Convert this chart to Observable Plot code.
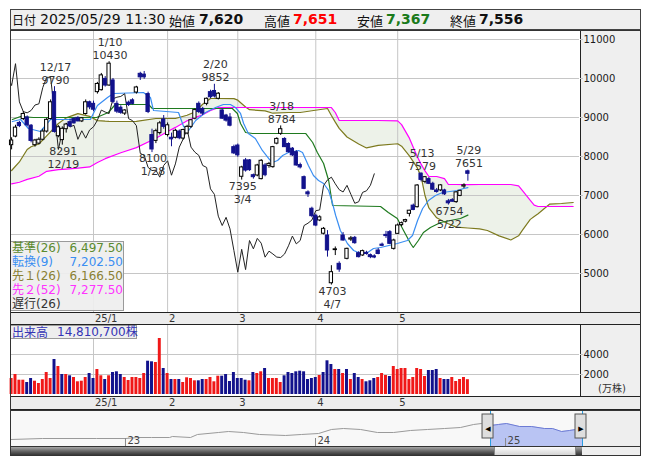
<!DOCTYPE html>
<html><head><meta charset="utf-8">
<script src="https://cdn.jsdelivr.net/npm/d3@7"></script>
<script src="https://cdn.jsdelivr.net/npm/@observablehq/plot@0.6"></script>
<style>
html,body{margin:0;padding:0;background:#fff;}
#root{position:relative;width:653px;height:470px;overflow:hidden;font-family:"DejaVu Sans","Noto Sans CJK JP",sans-serif;color:#111;}
</style></head><body><div id="root"></div>
<script>
// ---------------- DATA ----------------
// daily candles 2024/12/02 .. 2025/05/29 (index 0..117)
const open = [
8290,8510,8860,8960,9000,8790,8290,8330,8430,8640,
8960,9650,8520,8420,8700,8880,8960,8990,8900,9090,
9390,9350,9650,9700,9990,9820,9950,9350,9250,9100,
9380,9440,9640,10120,10100,9600,8550,8400,8600,8950,
8550,8480,8480,8640,8460,8590,8760,8970,9350,9220,
9350,9650,9680,9480,9180,9050,9000,8240,8280,7480,
7900,7900,7520,7513,7420,7770,7760,7727,8330,8580,
8450,8320,8200,8110,7780,7470,7080,6660,6480,6360,
6020,5974,4750,5600,5248,5974,5376,5870,5914,5521,
5462,5530,5470,5440,5590,5740,5990,6060,5632,6017,
6240,6330,6530,6740,6700,7560,7350,7420,7300,7130,
7130,7130,6850,6880,6830,6990,7230,7620];
const high = [
8480,8800,8900,9150,9040,8820,8440,8480,8700,8980,
9450,9790,8790,8760,8850,8960,9000,9020,9000,9450,
9420,9420,9900,10130,10050,10430,10000,9420,9300,9200,
9420,9480,9800,10160,10180,9650,8700,8700,8900,9050,
8860,8600,8700,8680,8700,8800,8950,9220,9400,9260,
9500,9700,9852,9640,9220,9080,9100,8290,8320,7750,
7950,7920,7550,7800,7920,7820,7850,8260,8480,8784,
8480,8350,8230,8150,7830,7500,7120,6700,6520,6480,
6180,6100,5200,5680,5300,6050,5650,5950,5950,5560,
5600,5570,5500,5480,5640,5780,6080,6100,5880,6270,
6320,6390,6620,6780,7280,7579,7480,7460,7340,7180,
7280,7160,6900,6920,7100,7130,7300,7651];
const low = [
8170,8480,8740,8920,8760,8350,8240,8300,8400,8600,
8940,8600,8480,8291,8600,8740,8830,8890,8870,9060,
9200,9150,9600,9680,9780,9800,9350,9100,9080,9050,
9280,9320,9600,9950,9980,9100,8100,8330,8550,8700,
8500,8250,8450,8430,8420,8560,8720,8940,9100,9050,
9300,9480,9500,9450,8950,8880,8760,8050,7980,7395,
7600,7620,7420,7480,7400,7480,7700,7700,8300,8540,
8230,8090,8000,7750,7680,7150,6950,6430,6200,6330,
5990,5420,4703,5460,5030,5830,5350,5820,5750,5400,
5440,5470,5380,5380,5480,5690,5900,5740,5600,6000,
6200,6300,6450,6610,6680,7350,7300,7280,7130,7060,
7100,7000,6754,6830,6800,6970,7180,7367];
const close = [
8410,8740,8780,9090,8800,8400,8410,8430,8640,8940,
9390,8630,8750,8710,8820,8770,8850,8900,8980,9390,
9260,9200,9860,10080,9820,10380,9400,9150,9120,9180,
9320,9350,9770,10030,10030,9140,8180,8650,8850,8760,
8800,8440,8660,8470,8680,8760,8930,9190,9140,9100,
9480,9520,9540,9610,8970,8920,8790,8080,8030,7720,
7640,7650,7470,7770,7890,7520,7810,8240,8450,8700,
8240,8110,8030,7770,7720,7170,7030,6470,6230,6440,
6145,5590,5034,5620,5100,5846,5632,5900,5778,5419,
5573,5500,5420,5410,5500,5710,5960,5760,5846,6231,
6290,6370,6610,6630,7256,7400,7470,7300,7150,7090,
7260,7030,6800,6840,7080,7120,7260,7556];
// volume (万株)
const volume = [
1600,2000,1430,1430,1200,1600,1330,1100,1500,2200,1600,3500,2800,2000,2000,1870,1700,1270,1330,1700,2100,
1600,2500,1870,1500,1870,2200,2270,2000,1700,1400,1700,1700,1600,2100,3330,3270,3200,5600,2600,
2100,1500,1500,1500,1200,1670,1600,1370,1370,1500,1500,1700,1270,1830,1830,2000,1300,2200,
1600,1600,1430,1370,2200,2100,2270,2600,1600,1600,1600,1200,1870,2200,2100,2270,2330,2270,1500,1600,
1700,1900,2200,3370,3000,2500,2500,2100,2500,1500,2100,1700,1500,1270,1370,1600,1700,2100,1900,1800,2800,
2500,2600,2600,1500,1700,2600,2500,1800,2400,2400,2500,1600,1500,1500,1700,1300,1500,1700,1481];
// Ichimoku lines (day index, value)
const tenkanI = [0.2,2.3,4.3,7.4,10,20.2,22,24.6,26.1,33.8,35.6,36.4,42.8,44.1,45.4,47.2,49.7,52.3,54.3,56.1,57.4,58.7,59.5,60.7,62.5,64.3,65.9,66.9,68.2,69.5,71,73.6,74.6,76.1,77.4,78.7,80,81.3,82.3,83.1,84.3,86.1,87.7,89.5,91.3,92.8,94.6,98.9,101.5,102.8,104.1,105.4,106.9,108.7,110.5,114.3,115.9,117];
const tenkanV = [8897,8949,8718,8641,8949,8949,9308,9513,9615,9641,9513,9179,9128,8769,8667,8923,9128,9256,9333,9333,9256,9103,8846,8590,8462,8154,7949,7846,7897,8026,8103,8154,8103,7769,7513,7385,7308,7128,6795,6487,6103,5769,5590,5513,5538,5641,5667,5769,5846,5974,6359,6667,6872,7000,7077,7128,7179,7202.5];
const kijunI = [0.2,2.3,5.6,21.8,24.8,26.6,35.1,36.1,56.6,57.9,58.7,60,61.8,75.4,77.2,78.4,80,81.3,82.3,94.6,96.6,98.9,100.5,102.3,103,104.3,105.6,107.4,110,112.5,115.1,117];
const kijunV = [8949,9026,9000,9000,9128,9333,9333,9231,9231,9103,8846,8615,8590,8590,8359,8103,7821,7385,6744,6718,6564,6410,6103,5769,5667,5846,6051,6179,6308,6359,6410,6497.5];
const cloudI = [0,2,4,5,7,9,12,14,17,20,22,24,25,28,32,37,40,42,45,47,49,51,53,57,58,60,61,65,67,71,74,77,81,82,83,84,86,89,91,94,99,100,102,104,105,106,107,109,111,112,114,117,120,122,125,128,130,131,133,134,135,138,141,144];
const spanA = [7641,7860,8180,8250,8320,8530,8846,8990,9100,9030,8920,8905,8900,8897,8900,8974,8974,8974,9058,9140,9340,9487,9487,9485,9444,9270,9200,9170,9110,9128,9128,9173,9231,9050,8880,8720,8500,8320,8220,8285,8327,8263,8017,7713,7490,7000,6680,6427,6320,6274,6190,6166.5,6144,6103,5965,5860,5966,6110,6388,6460,6531,6780,6795,6821];
const spanB = [7300,7340,7414,7440,7494,7620,7663,7678,7700,7733,7846,7944,7984,8095,8228,8466,8640,8746,8918,8998,9070,9179,9252,9256,9256,9256,9256,9256,9256,9256,9256,9256,9256,9256,9128,8923,8923,8923,8923,8923,8913,8817,8470,7998,7805,7630,7487,7487,7431,7282,7282,7277.5,7282,7282,7282,7282,7245,7122,6875,6753,6718,6718,6718,6718];
// high / low annotations
const hiIdx = [11,25,52,69,105,117];
const hiDate = ["12/17","1/10","2/20","3/18","5/13","5/29"];
const hiVal = [9790,10430,9852,8784,7579,7651];
const loIdx = [13,36,59,82,112];
const loDate = ["12/19","1/28","3/4","4/7","5/22"];
const loVal = [8291,8100,7395,4703,6754];
// ticks
const monthTicks = [21,40,58,78,99];
const monthLabels = ["25/1","2","3","4","5"];
const priceTicks = [5000,6000,7000,8000,9000,10000,11000];
const volTicks = [2000,4000];
// legend
const legendNames = ["基準(26)","転換(9)","先１(26)","先２(52)","遅行(26)"];
const legendValues = ["6,497.50","7,202.50","6,166.50","7,277.50",""];
// header
const headDate = "2025/05/29 11:30";
const headLabels = ["始値","高値","安値","終値"];
const headValues = ["7,620","7,651","7,367","7,556"];
const volTitle = "14,810,700株";
// navigator (year, price)
const navT = [2022.395,2022.563,2022.847,2023.0,2023.068,2023.137,2023.232,2023.247,2023.342,2023.379,2023.489,2023.542,2023.621,2023.705,2023.842,2023.926,2024.016,2024.084,2024.147,2024.237,2024.326,2024.411,2024.5,2024.589,2024.679,2024.763,2024.832,2024.874,2024.921,2024.963,2025.005,2025.074,2025.137,2025.205,2025.247,2025.295,2025.337,2025.405];
const navP = [1000,1570,1570,1570,2130,2130,2130,2700,2130,3820,4940,5500,4940,3820,3260,3820,4380,6630,7190,6630,4940,4940,6070,6630,7190,7750,9440,10000,8880,9440,10000,8310,8310,7190,7190,5500,6070,7190];
const navYears = [2023,2024,2025];
const navYearLabels = ["23","24","25"];
const selStart = 2024.921, selEnd = 2025.405;
const chikouShift = 24;

// ---------------- BUILD ----------------
const NAVY = "#12128c", RED = "#f01818";
const candles = close.map((c,i)=>({i,o:open[i],h:high[i],l:low[i],c,up:c>=open[i]}));
const vols = volume.map((v,i)=>({i,v,up: i===0 ? true : close[i]>=close[i-1]}));
const tenkan = tenkanI.map((i,k)=>({i,v:tenkanV[k]}));
const kijun = kijunI.map((i,k)=>({i,v:kijunV[k]}));
const cloud = cloudI.map((i,k)=>({i,a:spanA[k],b:spanB[k]}));
const hiRows = hiIdx.map((i,k)=>({i,date:hiDate[k],v:hiVal[k]}));
const loRows = loIdx.map((i,k)=>({i,date:loDate[k],v:loVal[k]}));
const navAll = navT.map((t,k)=>({t,p:navP[k]}));
const navSel = navAll.filter(d=>d.t>=selStart);
const navOld = navAll.filter(d=>d.t<=selStart);

const root = document.getElementById("root");
function box(css,html){const e=document.createElement("div");e.style.cssText="position:absolute;"+css;if(html!==undefined)e.innerHTML=html;root.appendChild(e);return e;}
function place(svg,left,top,w,h){const d=box(`left:${left}px;top:${top}px;width:${w}px;height:${h}px;`);d.appendChild(svg);return d;}

const FONT = "DejaVu Sans";
const xDom = [-0.282,145.62];
const st = {background:"transparent",fontFamily:FONT,fontSize:"10px",overflow:"visible",color:"#111"};

// background panels
box("left:10px;top:31px;width:570px;height:281px;background:#fff;");
box("left:580px;top:31px;width:61px;height:281px;background:#efefef;border-left:1px solid #222;box-sizing:border-box;");
box("left:580px;top:325px;width:61px;height:71px;background:#efefef;border-left:1px solid #222;box-sizing:border-box;");
box("left:10px;top:410px;width:572px;height:36px;background:#f8f8f8;");
box("left:582px;top:410px;width:59px;height:46px;background:#eeeeee;");

const txt = (data,opts)=>Plot.text(data,Object.assign({x:"i",y:"v",dx:1,fontSize:11,fill:"#333",fontFamily:FONT},opts));

const main = Plot.plot({
  width:631,height:281,marginLeft:0,marginRight:62,marginTop:0,marginBottom:0,
  x:{domain:xDom,axis:null}, y:{domain:[4000,11205],axis:null}, style:st,
  marks:[
    Plot.areaY(cloud,{x:"i",y1:"a",y2:"b",fill:"#edf2e9"}),
    Plot.gridY(priceTicks,{stroke:"#c6c6c6",strokeOpacity:1}),
    Plot.gridX(monthTicks,{stroke:"#c6c6c6",strokeOpacity:1}),
    Plot.axisY(priceTicks,{anchor:"right",tickSize:3,tickPadding:1,label:null,tickFormat:d=>String(d),fill:"#1a1a1a",stroke:"#c6c6c6",fontSize:10}),
    Plot.line(cloud,{x:"i",y:"a",stroke:"#7d7a1e",strokeWidth:1.2}),
    Plot.line(cloud,{x:"i",y:"b",stroke:"#ff00ff",strokeWidth:1.2}),
    Plot.line(kijun,{x:"i",y:"v",stroke:"#1f7a1f",strokeWidth:1.2}),
    Plot.line(tenkan,{x:"i",y:"v",stroke:"#3a8ef2",strokeWidth:1.2}),
    Plot.line(candles,{x:d=>d.i-chikouShift,y:"c",stroke:"#222",strokeWidth:1,clip:true}),
    Plot.ruleX(candles.filter(d=>d.up),{x:"i",y1:"l",y2:"h",stroke:"#000"}),
    Plot.ruleX(candles.filter(d=>!d.up),{x:"i",y1:"l",y2:"h",stroke:NAVY}),
    Plot.rect(candles.filter(d=>d.up),{x1:d=>d.i-0.42,x2:d=>d.i+0.42,y1:"o",y2:"c",fill:"#fff",stroke:"#000",strokeWidth:1}),
    Plot.rect(candles.filter(d=>!d.up),{x1:d=>d.i-0.42,x2:d=>d.i+0.42,y1:"o",y2:"c",fill:NAVY,stroke:NAVY,strokeWidth:1}),
    txt(hiRows,{text:"date",dy:-19.5}),
    txt(hiRows,{text:d=>String(d.v),dy:-6.5}),
    txt(loRows,{text:d=>String(d.v),dy:6}),
    txt(loRows,{text:"date",dy:19})
  ]
});
place(main,10,31,631,281);

const volPlot = Plot.plot({
  width:631,height:71,marginLeft:0,marginRight:62,marginTop:0,marginBottom:2,
  x:{domain:xDom,axis:null}, y:{domain:[0,6900],axis:null}, style:st,
  marks:[
    Plot.gridY(volTicks,{stroke:"#c6c6c6",strokeOpacity:1}),
    Plot.gridX(monthTicks,{stroke:"#c6c6c6",strokeOpacity:1}),
    Plot.axisY(volTicks,{anchor:"right",tickSize:3,tickPadding:1,label:null,tickFormat:d=>String(d),fill:"#1a1a1a",stroke:"#c6c6c6",fontSize:10}),
    Plot.rectY(vols.filter(d=>d.up),{x1:d=>d.i-0.38,x2:d=>d.i+0.38,y:"v",fill:RED}),
    Plot.rectY(vols.filter(d=>!d.up),{x1:d=>d.i-0.38,x2:d=>d.i+0.38,y:"v",fill:NAVY})
  ]
});
place(volPlot,10,325,631,71);

const navY = [-2926,17306];
const nav = Plot.plot({
  width:631,height:36,marginLeft:0,marginRight:59,marginTop:0,marginBottom:0,
  x:{domain:[2022.395,2025.405],axis:null}, y:{domain:navY,axis:null}, style:st,
  marks:[
    Plot.areaY(navSel,{x:"t",y1:navY[0],y2:"p",fill:"#b9c4f3"}),
    Plot.line(navOld,{x:"t",y:"p",stroke:"#9a9a9a",strokeWidth:1}),
    Plot.line(navSel,{x:"t",y:"p",stroke:"#6d7bd4",strokeWidth:1}),
    Plot.ruleX(navYears,{stroke:"#888",insetTop:28}),
    Plot.text(navYears,{x:d=>d,text:(d,k)=>navYearLabels[k],frameAnchor:"bottom",dy:-3,dx:2,textAnchor:"start",fontSize:10,fill:"#444"}),
    Plot.ruleX([selStart,selEnd],{stroke:"#2a9de0"}),
    Plot.rect([selStart],{x1:d=>d,x2:d=>d,insetLeft:-8,insetRight:-3,insetTop:4,insetBottom:8,fill:"#dedede",stroke:"#555"}),
    Plot.rect([selEnd],{x1:d=>d,x2:d=>d,insetLeft:-7,insetRight:-4,insetTop:4,insetBottom:8,fill:"#dedede",stroke:"#555"}),
    Plot.text([selStart],{x:d=>d,text:()=>"◀",frameAnchor:"top",dy:16,dx:-2.5,fontSize:7,fill:"#000"}),
    Plot.text([selEnd],{x:d=>d,text:()=>"▶",frameAnchor:"top",dy:16,dx:-1.5,fontSize:7,fill:"#000"})
  ]
});
place(nav,10,410,631,36);

// date strips
const sx = main.scale("x");
function strip(top,h){
  box(`left:10px;top:${top}px;width:631px;height:${h}px;background:#ececec;border-top:1px solid #222;border-bottom:1px solid #222;box-sizing:border-box;`);
  monthTicks.forEach((t,k)=>{
    box(`left:${10+sx.apply(t)+2}px;top:${top+2}px;font:10px '${FONT}';color:#333;white-space:nowrap;line-height:1;`,monthLabels[k]);
  });
}
strip(312,13);
strip(396,14);

// legend
box("left:10px;top:241px;width:114px;height:70px;background:rgba(238,238,238,0.92);border:1px solid #9a9a9a;box-sizing:border-box;");
const legendColors = ["#5b8a2e","#3a8ef2","#8a7f32","#ff33ff","#333333"];
legendNames.forEach((n,k)=>{
  const top = 241 + k*14.1;
  box(`left:12px;top:${top}px;font:12px '${FONT}','Noto Sans CJK JP';color:${legendColors[k]};white-space:nowrap;line-height:14px;`,n);
  if(legendValues[k]) box(`left:60px;width:63px;text-align:right;top:${top}px;font:12px '${FONT}';color:${legendColors[k]};white-space:nowrap;line-height:14px;`,legendValues[k]);
});

// volume title
box("left:10px;top:325px;width:127px;height:14px;background:#eeeeee;border:1px solid #9a9a9a;box-sizing:border-box;");
box(`left:12px;top:325px;font:12px 'Noto Sans CJK JP';color:#3535b5;line-height:14px;white-space:nowrap;`,"出来高");
box(`left:57px;top:325px;font:12px '${FONT}','Noto Sans CJK JP';color:#3535b5;line-height:14px;white-space:nowrap;`,volTitle);
box(`left:598px;top:384px;font:10px '${FONT}','Noto Sans CJK JP';color:#333;line-height:1;white-space:nowrap;`,"(万株)");

// header
box("left:10px;top:9px;width:631px;height:21px;background:#efefef;border:1px solid #444;box-sizing:border-box;");
const hy = "top:11px;line-height:17px;white-space:nowrap;";
box(`left:12px;${hy}font:12px 'Noto Sans CJK JP';color:#111;`,"日付");
box(`left:40px;${hy}font:14px '${FONT}';color:#111;`,headDate);
const hx = [[169,199],[264,293],[357,386],[450,479]];
const hc = ["#111","#ff0000","#1a7a1a","#111"];
headLabels.forEach((l,k)=>{
  box(`left:${hx[k][0]}px;${hy}font:13px 'Noto Sans CJK JP';color:#111;`,l);
  box(`left:${hx[k][1]}px;${hy}font:bold 14px '${FONT}';color:${hc[k]};`,headValues[k]);
});

// scrollbar
const nx = nav.scale("x");
const a = 10+nx.apply(selStart), b = 10+nx.apply(selEnd);
box(`left:10px;top:446px;width:${b-10}px;height:10px;background:linear-gradient(#b5b5b5,#5a5a5a 60%,#2a2a2a);`);
box(`left:${a+4}px;top:446px;width:${b-a-10}px;height:10px;background:linear-gradient(#fbfbfb,#d4d4d4);border:1px solid #888;box-sizing:border-box;`);

// frame lines
box("left:10px;top:30px;width:631px;height:426px;border:1px solid #333;box-sizing:border-box;pointer-events:none;");
box("left:10px;top:410px;width:631px;height:0;border-top:1px solid #333;");
box("left:10px;top:446px;width:631px;height:0;border-top:1px solid #333;");
</script></body></html>
